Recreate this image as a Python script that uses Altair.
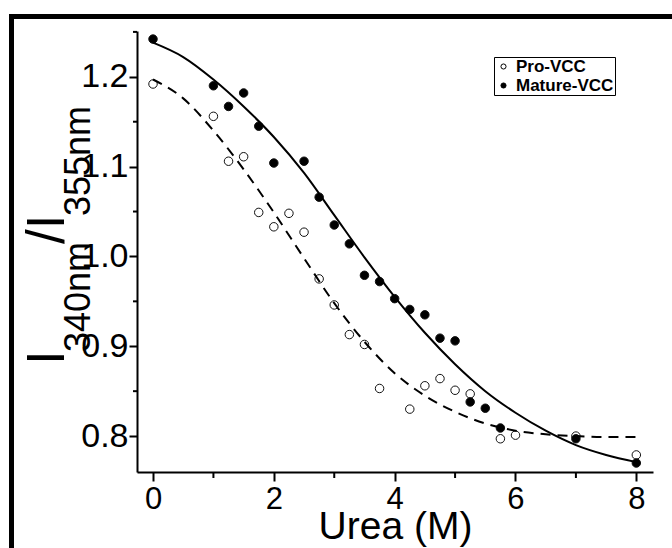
import altair as alt
import pandas as pd

FONT = "Liberation Sans"

# ---- data ----
pro_x = [0, 1, 1.25, 1.5, 1.75, 2, 2.25, 2.5, 2.75, 3, 3.25, 3.5, 3.75, 4.25, 4.5, 4.75, 5, 5.25, 5.75, 6, 7, 8]
pro_y = [1.192, 1.156, 1.106, 1.111, 1.049, 1.033, 1.048, 1.027, 0.975, 0.946, 0.913, 0.902, 0.853,
         0.830, 0.856, 0.864, 0.851, 0.847, 0.797, 0.801, 0.800, 0.779]

mature_x = [0, 1, 1.25, 1.5, 1.75, 2, 2.5, 2.75, 3, 3.25, 3.5, 3.75, 4, 4.25, 4.5, 4.75, 5, 5.25, 5.5, 5.75, 7, 8]
mature_y = [1.242, 1.190, 1.167, 1.182, 1.145, 1.104, 1.106, 1.066, 1.035, 1.014, 0.979, 0.972, 0.953,
            0.941, 0.935, 0.909, 0.906, 0.838, 0.831, 0.809, 0.797, 0.770]

fit_x = [0, 0.5, 1, 1.5, 2, 2.5, 3, 3.5, 4, 4.5, 5, 5.5, 6, 6.5, 7, 7.5, 8]
mature_fit = [1.238, 1.222, 1.197, 1.167, 1.133, 1.093, 1.046, 0.999, 0.955, 0.915, 0.880,
              0.850, 0.826, 0.806, 0.790, 0.779, 0.771]
pro_fit = [1.197, 1.176, 1.140, 1.097, 1.049, 0.998, 0.948, 0.905, 0.870, 0.845, 0.827,
           0.814, 0.806, 0.802, 0.800, 0.799, 0.799]

series_names = ["Pro-VCC", "Mature-VCC"]
x_ticks = [0, 2, 4, 6, 8]
x_minor = [1, 3, 5, 7]
y_ticks = [0.8, 0.9, 1.0, 1.1, 1.2]
y_minor = [0.85, 0.95, 1.05, 1.15, 1.25]

# ---- layout ----
W, H = 516, 441
PADL, PADT = 137, 31
xdom = [-0.265, 8.276]
ydom = [0.76, 1.251]

pts = pd.DataFrame({
    "urea": pro_x + mature_x,
    "ratio": pro_y + mature_y,
    "series": ["Pro-VCC"] * len(pro_x) + ["Mature-VCC"] * len(mature_x),
})
fits = pd.DataFrame({
    "urea": fit_x + fit_x,
    "ratio": pro_fit + mature_fit,
    "series": ["Pro-VCC"] * len(fit_x) + ["Mature-VCC"] * len(fit_x),
})

xs = alt.Scale(domain=xdom, nice=False, zero=False)
ys = alt.Scale(domain=ydom, nice=False, zero=False)

xaxis = alt.Axis(values=x_ticks, format="d", title="Urea (M)", grid=False,
                 domainColor="black", domainWidth=2, tickColor="black", tickWidth=2, tickSize=9,
                 labelFont=FONT, labelFontSize=31, labelColor="black", labelPadding=3,
                 titleFont=FONT, titleFontSize=39, titleFontWeight="normal", titleColor="black",
                 titlePadding=-7)
yaxis = alt.Axis(values=y_ticks, format=".1f", title=None, grid=False,
                 domainColor="black", domainWidth=2, tickColor="black", tickWidth=2, tickSize=8,
                 labelFont=FONT, labelFontSize=34, labelColor="black", labelPadding=1)

points = alt.Chart(pts).mark_circle(size=72, stroke="#111", strokeWidth=1, opacity=1).encode(
    x=alt.X("urea:Q", scale=xs, axis=xaxis),
    y=alt.Y("ratio:Q", scale=ys, axis=yaxis),
    fill=alt.Fill("series:N",
                  scale=alt.Scale(domain=series_names, range=["white", "black"]),
                  legend=alt.Legend(orient="none", legendX=357, legendY=26, title=None,
                                    strokeColor="black", fillColor="white", padding=1,
                                    labelFont=FONT, labelFontWeight="bold", labelFontSize=17,
                                    labelColor="black", symbolType="circle", symbolSize=26,
                                    symbolStrokeColor="black", symbolStrokeWidth=1,
                                    labelOffset=4, rowPadding=1, cornerRadius=0)),
)

line_mature = alt.Chart(fits[fits.series == "Mature-VCC"]).mark_line(
    color="black", strokeWidth=2, interpolate="monotone").encode(
    x=alt.X("urea:Q", scale=xs), y=alt.Y("ratio:Q", scale=ys))
line_pro = alt.Chart(fits[fits.series == "Pro-VCC"]).mark_line(
    color="black", strokeWidth=2, strokeDash=[10, 7], interpolate="monotone").encode(
    x=alt.X("urea:Q", scale=xs), y=alt.Y("ratio:Q", scale=ys))

xminor = alt.Chart(pd.DataFrame({"v": x_minor})).mark_rule(color="black", strokeWidth=2).encode(
    x=alt.X("v:Q", scale=xs), y=alt.value(H), y2=alt.value(H + 6))
yminor = alt.Chart(pd.DataFrame({"v": y_minor})).mark_rule(color="black", strokeWidth=2).encode(
    y=alt.Y("v:Q", scale=ys), x=alt.value(-4), x2=alt.value(0))

one = pd.DataFrame({"a": [0]})
border_top = alt.Chart(one).mark_rule(color="black", strokeWidth=5).encode(
    x=alt.value(9 - PADL), x2=alt.value(672 - PADL), y=alt.value(16.5 - PADT))
border_left = alt.Chart(one).mark_rule(color="black", strokeWidth=5).encode(
    x=alt.value(11.5 - PADL), y=alt.value(14 - PADT), y2=alt.value(548 - PADT))

def ytext(txt, size, bx, sy):
    return alt.Chart(pd.DataFrame({"t": [txt]})).mark_text(
        angle=270, align="left", baseline="alphabetic", font=FONT, fontSize=size, color="black"
    ).encode(x=alt.value(bx - PADL), y=alt.value(sy - PADT), text="t:N")

ytitle = [
    ytext("I", 53, 64, 365),
    ytext("340nm", 36, 90, 352),
    ytext("/I", 53, 64, 244),
    ytext("355nm", 36, 90, 216),
]

chart = alt.layer(
    border_top, border_left, xminor, yminor, points, line_pro, line_mature, *ytitle
).properties(
    width=W, height=H,
    autosize=alt.AutoSizeParams(type="none"),
    padding={"left": PADL, "top": PADT, "right": 672 - PADL - W, "bottom": 548 - PADT - H},
    background="white",
).configure_view(stroke=None)

chart.save("out.html", embed_options={"renderer": "svg", "actions": False})
